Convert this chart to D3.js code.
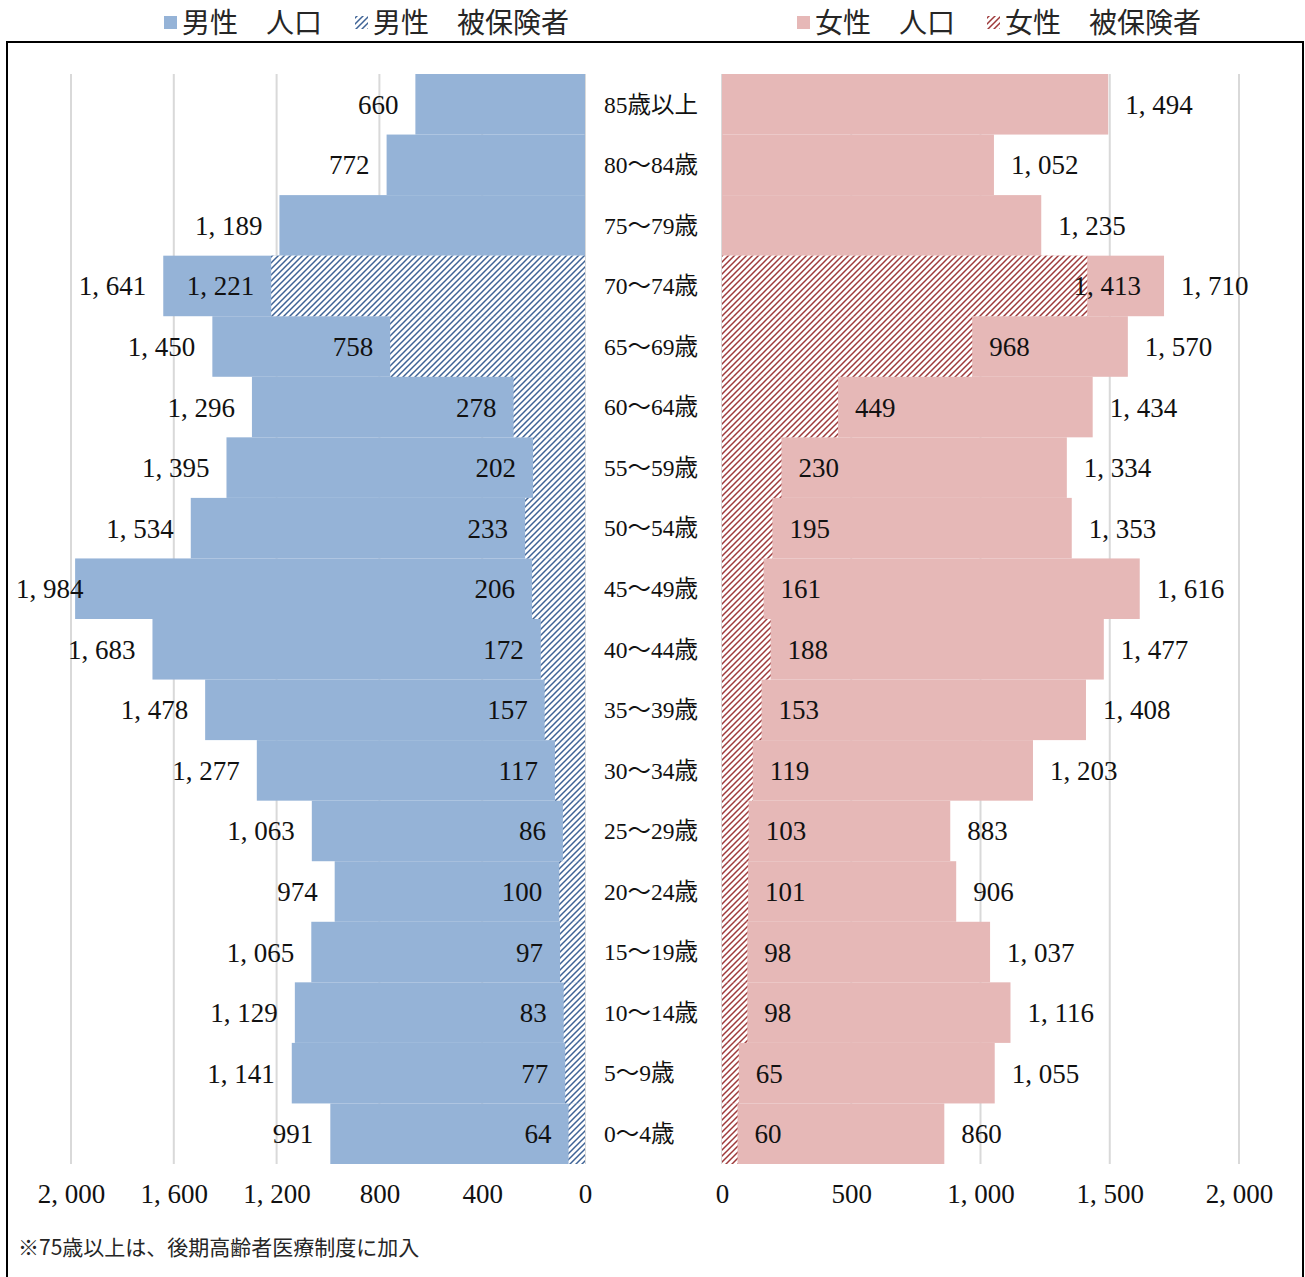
<!DOCTYPE html>
<html>
<head>
<meta charset="utf-8">
<script src="https://cdn.jsdelivr.net/npm/d3@7"></script>
<style>
  body { margin: 0; background: #fff; }
  svg { display: block; }
</style>
</head>
<body>
<svg id="chart" width="1305" height="1277"></svg>
<script>
// Age groups, oldest at the top
const ageGroups = ["85歳以上", "80～84歳", "75～79歳", "70～74歳", "65～69歳", "60～64歳",
  "55～59歳", "50～54歳", "45～49歳", "40～44歳", "35～39歳", "30～34歳",
  "25～29歳", "20～24歳", "15～19歳", "10～14歳", "5～9歳", "0～4歳"];

const malePopulation = [660, 772, 1189, 1641, 1450, 1296, 1395, 1534, 1984, 1683, 1478, 1277, 1063, 974, 1065, 1129, 1141, 991];
const maleInsured = [null, null, null, 1221, 758, 278, 202, 233, 206, 172, 157, 117, 86, 100, 97, 83, 77, 64];
const femalePopulation = [1494, 1052, 1235, 1710, 1570, 1434, 1334, 1353, 1616, 1477, 1408, 1203, 883, 906, 1037, 1116, 1055, 860];
const femaleInsured = [null, null, null, 1413, 968, 449, 230, 195, 161, 188, 153, 119, 103, 101, 98, 98, 65, 60];

const maleTicks = [0, 400, 800, 1200, 1600, 2000];
const femaleTicks = [0, 500, 1000, 1500, 2000];

const legendLabels = ["男性　人口", "男性　被保険者", "女性　人口", "女性　被保険者"];
const footnote = "※75歳以上は、後期高齢者医療制度に加入";

const colors = {
  malePop: "#95B3D7", maleHatch: "#3E6396",
  femalePop: "#E6B8B7", femaleHatch: "#9E3A3B",
  grid: "#D9D9D9", text: "#111111"
};

const serif = "'Liberation Serif', 'Noto Sans CJK JP', serif";
const sans = "'Noto Sans CJK JP', sans-serif";

const svg = d3.select("#chart");

// number format with wide comma spacing
const fmt = v => d3.format(",")(v).replace(/,/g, ", ");

const xMale = d3.scaleLinear().domain([0, 2000]).range([585, 71]);
const xFemale = d3.scaleLinear().domain([0, 2000]).range([722, 1239]);
const y = d3.scaleBand().domain(ageGroups).range([74, 1164]).padding(0);

// hatch patterns
const defs = svg.append("defs");
function hatch(id, color) {
  const p = defs.append("pattern").attr("id", id)
    .attr("patternUnits", "userSpaceOnUse").attr("width", 6).attr("height", 6);
  p.append("rect").attr("width", 6).attr("height", 6).attr("fill", "#fff");
  p.append("path").attr("d", "M-1,1 L1,-1 M0,6 L6,0 M5,7 L7,5")
    .attr("stroke", color).attr("stroke-width", 1.5).attr("fill", "none");
}
hatch("hatchMale", colors.maleHatch);
hatch("hatchFemale", colors.femaleHatch);

// frame around the chart area
svg.append("rect").attr("x", 7).attr("y", 42).attr("width", 1296).attr("height", 1260)
  .attr("fill", "none").attr("stroke", "#000").attr("stroke-width", 2);

// gridlines
const gridTop = y.range()[0], gridBottom = y.range()[1];
svg.append("g").selectAll("line").data(maleTicks).join("line")
  .attr("x1", d => xMale(d)).attr("x2", d => xMale(d))
  .attr("y1", gridTop).attr("y2", gridBottom)
  .attr("stroke", colors.grid).attr("stroke-width", 2);
svg.append("g").selectAll("line").data(femaleTicks).join("line")
  .attr("x1", d => xFemale(d)).attr("x2", d => xFemale(d))
  .attr("y1", gridTop).attr("y2", gridBottom)
  .attr("stroke", colors.grid).attr("stroke-width", 2);

const rows = ageGroups.map((g, i) => ({
  g, mp: malePopulation[i], mi: maleInsured[i], fp: femalePopulation[i], fi: femaleInsured[i]
}));

// bars
svg.append("g").selectAll("rect").data(rows).join("rect")
  .attr("x", d => xMale(d.mp)).attr("y", d => y(d.g))
  .attr("width", d => xMale(0) - xMale(d.mp)).attr("height", y.bandwidth())
  .attr("fill", colors.malePop);
svg.append("g").selectAll("rect").data(rows.filter(d => d.mi != null)).join("rect")
  .attr("x", d => xMale(d.mi)).attr("y", d => y(d.g))
  .attr("width", d => xMale(0) - xMale(d.mi)).attr("height", y.bandwidth())
  .attr("fill", "url(#hatchMale)");
svg.append("g").selectAll("rect").data(rows).join("rect")
  .attr("x", xFemale(0)).attr("y", d => y(d.g))
  .attr("width", d => xFemale(d.fp) - xFemale(0)).attr("height", y.bandwidth())
  .attr("fill", colors.femalePop);
svg.append("g").selectAll("rect").data(rows.filter(d => d.fi != null)).join("rect")
  .attr("x", xFemale(0)).attr("y", d => y(d.g))
  .attr("width", d => xFemale(d.fi) - xFemale(0)).attr("height", y.bandwidth())
  .attr("fill", "url(#hatchFemale)");

// category labels in the centre gap
svg.append("g").selectAll("text").data(ageGroups).join("text")
  .attr("x", 604).attr("y", d => y(d) + y.bandwidth() / 2).attr("dy", "0.35em")
  .attr("font-family", serif).attr("font-size", 23.5).attr("fill", colors.text)
  .text(d => d);

// value labels
const gap = 17, minLeft = 16, labelSep = 40;
const labelG = svg.append("g").attr("font-family", serif).attr("font-size", 27).attr("fill", colors.text);
const cy = d => y(d.g) + y.bandwidth() / 2;

rows.forEach(d => {
  // male population
  const mpT = labelG.append("text").attr("text-anchor", "end")
    .attr("x", xMale(d.mp) - gap).attr("y", cy(d)).attr("dy", "0.35em").text(fmt(d.mp));
  const b = mpT.node().getBBox();
  if (b.x < minLeft) mpT.attr("x", xMale(d.mp) - gap + (minLeft - b.x));
  const mpBox = mpT.node().getBBox();
  if (d.mi != null) {
    const miT = labelG.append("text").attr("text-anchor", "end")
      .attr("x", xMale(d.mi) - gap).attr("y", cy(d)).attr("dy", "0.35em").text(fmt(d.mi));
    const mb = miT.node().getBBox();
    const need = (mpBox.x + mpBox.width + labelSep) - mb.x;
    if (need > 0) miT.attr("x", xMale(d.mi) - gap + need);
  }
  // female population
  const fpT = labelG.append("text").attr("text-anchor", "start")
    .attr("x", xFemale(d.fp) + gap).attr("y", cy(d)).attr("dy", "0.35em").text(fmt(d.fp));
  const fpBox = fpT.node().getBBox();
  if (d.fi != null) {
    const fiT = labelG.append("text").attr("text-anchor", "start")
      .attr("x", xFemale(d.fi) + gap).attr("y", cy(d)).attr("dy", "0.35em").text(fmt(d.fi));
    const fb = fiT.node().getBBox();
    const over = (fb.x + fb.width + labelSep) - fpBox.x;
    if (over > 0) fiT.attr("x", xFemale(d.fi) + gap - over);
  }
});

// axes
function styleAxis(g) {
  g.select(".domain").remove();
  g.selectAll("text").attr("font-family", serif).attr("font-size", 27).attr("fill", colors.text);
}
svg.append("g").attr("transform", `translate(0,${gridBottom})`)
  .call(d3.axisBottom(xMale).tickValues(maleTicks).tickSize(0).tickPadding(20).tickFormat(fmt))
  .call(styleAxis);
svg.append("g").attr("transform", `translate(0,${gridBottom})`)
  .call(d3.axisBottom(xFemale).tickValues(femaleTicks).tickSize(0).tickPadding(20).tickFormat(fmt))
  .call(styleAxis);

// legend
const legendItems = [
  { x: 164, fill: colors.malePop, label: legendLabels[0] },
  { x: 355, fill: "url(#hatchMale)", label: legendLabels[1] },
  { x: 797, fill: colors.femalePop, label: legendLabels[2] },
  { x: 987, fill: "url(#hatchFemale)", label: legendLabels[3] }
];
const lg = svg.append("g").selectAll("g").data(legendItems).join("g")
  .attr("transform", d => `translate(${d.x},0)`);
lg.append("rect").attr("x", 0).attr("y", 16).attr("width", 13).attr("height", 13)
  .attr("fill", d => d.fill);
lg.append("text").attr("x", 18).attr("y", 23).attr("dy", "0.36em")
  .attr("font-family", sans).attr("font-size", 28).attr("fill", "#262626")
  .text(d => d.label);

// footnote
svg.append("text").attr("x", 18).attr("y", 1247).attr("dy", "0.36em")
  .attr("font-family", sans).attr("font-size", 21).attr("fill", "#262626")
  .text(footnote);
</script>
</body>
</html>
